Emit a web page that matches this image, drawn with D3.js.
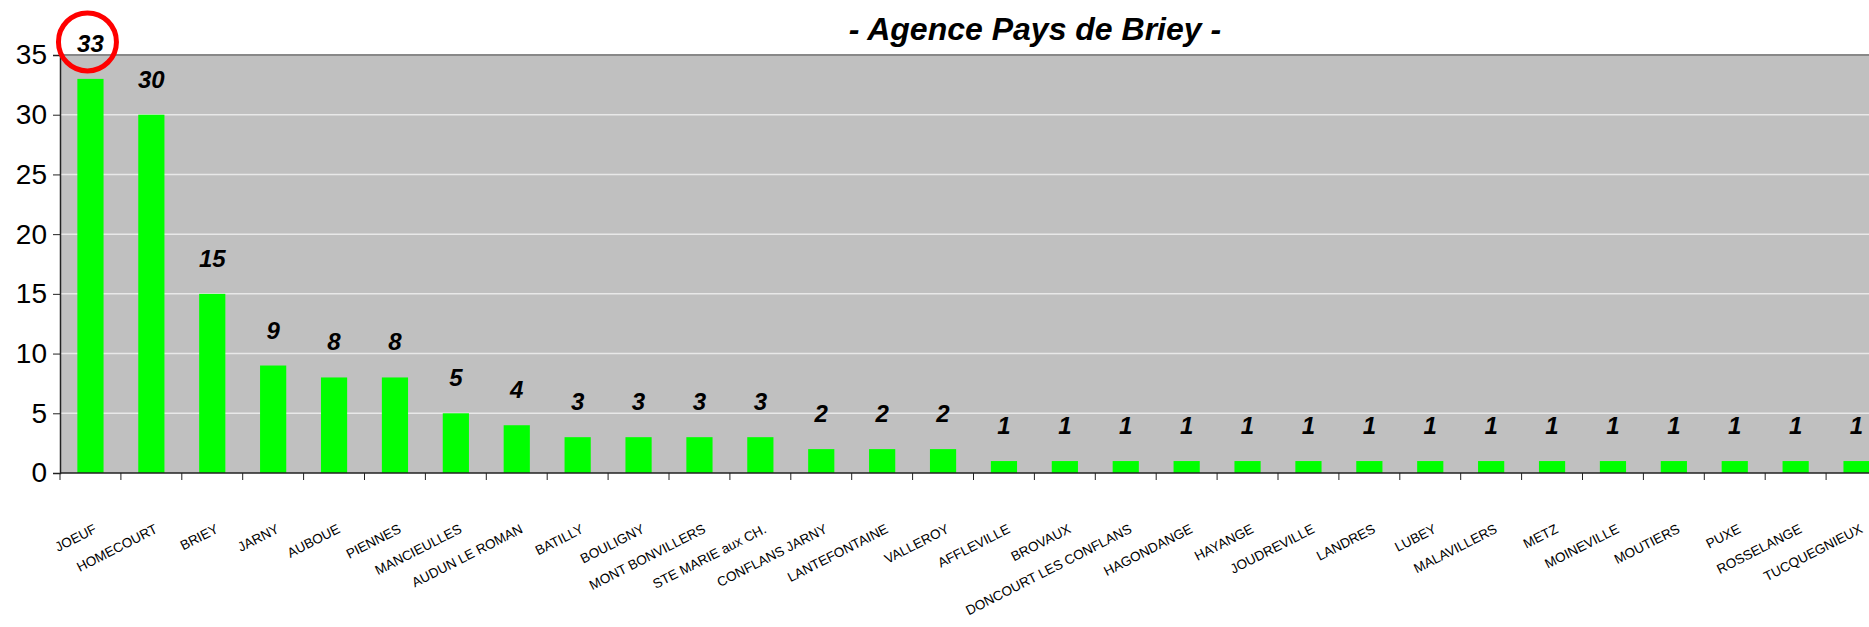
<!DOCTYPE html>
<html>
<head>
<meta charset="utf-8">
<script src="https://cdn.jsdelivr.net/npm/d3@7"></script>
<style>
  body { margin: 0; background: #fff; }
  svg { display: block; font-family: "Liberation Sans", Arial, sans-serif; }
</style>
</head>
<body>
<script>
// chart data
const communes = [
  "JOEUF", "HOMECOURT", "BRIEY", "JARNY", "AUBOUE", "PIENNES", "MANCIEULLES",
  "AUDUN LE ROMAN", "BATILLY", "BOULIGNY", "MONT BONVILLERS", "STE MARIE aux CH.",
  "CONFLANS JARNY", "LANTEFONTAINE", "VALLEROY", "AFFLEVILLE", "BROVAUX",
  "DONCOURT LES CONFLANS", "HAGONDANGE", "HAYANGE", "JOUDREVILLE", "LANDRES",
  "LUBEY", "MALAVILLERS", "METZ", "MOINEVILLE", "MOUTIERS", "PUXE",
  "ROSSELANGE", "TUCQUEGNIEUX"
];
const counts = [
  33, 30, 15, 9, 8, 8, 5, 4, 3, 3, 3, 3, 2, 2, 2,
  1, 1, 1, 1, 1, 1, 1, 1, 1, 1, 1, 1, 1, 1, 1
];
const yTicks = [0, 5, 10, 15, 20, 25, 30, 35];
const chartTitle = "- Agence Pays de Briey -";

const width = 1869, height = 627;
// plot runs past the right edge, as in the original capture
const margin = { top: 55, left: 60, bottom: 154, plotRight: 1887 };

const data = communes.map((c, i) => ({ name: c, value: counts[i] }));

const svg = d3.select("body").append("svg")
  .attr("width", width)
  .attr("height", height);

const x = d3.scaleBand()
  .domain(communes)
  .range([margin.left, margin.plotRight])
  .paddingInner(0.57)
  .paddingOuter(0.285);

const y = d3.scaleLinear()
  .domain([0, 35])
  .range([height - margin.bottom, margin.top]);

const step = x.step();
const pad = step * 0.285;

// plot background
svg.append("rect")
  .attr("x", margin.left)
  .attr("y", y(35))
  .attr("width", margin.plotRight - margin.left)
  .attr("height", y(0) - y(35))
  .attr("fill", "#c0c0c0");

// gridlines
svg.append("g")
  .selectAll("line")
  .data(yTicks.filter(t => t > 0 && t < 35))
  .join("line")
  .attr("x1", margin.left)
  .attr("x2", margin.plotRight)
  .attr("y1", d => y(d))
  .attr("y2", d => y(d))
  .attr("stroke", "#e8e8e8")
  .attr("stroke-width", 1.5);

// top border
svg.append("line")
  .attr("x1", margin.left).attr("x2", margin.plotRight)
  .attr("y1", y(35)).attr("y2", y(35))
  .attr("stroke", "#888").attr("stroke-width", 2);

// bars
svg.append("g")
  .selectAll("rect")
  .data(data)
  .join("rect")
  .attr("x", d => x(d.name))
  .attr("y", d => y(d.value))
  .attr("width", x.bandwidth())
  .attr("height", d => y(0) - y(d.value))
  .attr("fill", "#00ff00");

// value labels
svg.append("g")
  .selectAll("text")
  .data(data)
  .join("text")
  .attr("x", d => x(d.name) + x.bandwidth() / 2)
  .attr("y", d => y(d.value) - 27)
  .attr("text-anchor", "middle")
  .attr("font-size", 24)
  .attr("font-weight", "bold")
  .attr("font-style", "italic")
  .text(d => d.value);

// y axis
const yAxis = svg.append("g")
  .attr("transform", `translate(${margin.left},0)`)
  .call(d3.axisLeft(y).tickValues(yTicks).tickSize(7).tickPadding(6))
  .call(g => g.select(".domain").attr("stroke", "#222").attr("stroke-width", 1.5));
yAxis.selectAll("text")
  .attr("font-size", 28)
  .attr("font-family", "Liberation Sans, Arial, sans-serif")
  .attr("fill", "#000");
yAxis.selectAll(".tick line").attr("stroke", "#222");

// x axis: ticks on the category boundaries
const xAxis = svg.append("g")
  .attr("transform", `translate(0,${y(0)})`);
xAxis.append("line")
  .attr("x1", margin.left).attr("x2", margin.plotRight)
  .attr("stroke", "#222").attr("stroke-width", 1.5);
xAxis.selectAll(".xt")
  .data(communes)
  .join("line")
  .attr("class", "xt")
  .attr("x1", d => x(d) - pad)
  .attr("x2", d => x(d) - pad)
  .attr("y1", 0).attr("y2", 7)
  .attr("stroke", "#222");

xAxis.selectAll(".xl")
  .data(communes)
  .join("text")
  .attr("class", "xl")
  .attr("text-anchor", "end")
  .attr("font-size", 13.5)
  .attr("transform", d => `translate(${x(d) + x.bandwidth() / 2 + 7},${59}) rotate(-27)`)
  .text(d => d);

// title
svg.append("text")
  .attr("x", 1035)
  .attr("y", 40)
  .attr("text-anchor", "middle")
  .attr("font-size", 32)
  .attr("font-weight", "bold")
  .attr("font-style", "italic")
  .text(chartTitle);

// red circle highlighting the top commune
svg.append("circle")
  .attr("cx", x(communes[0]) + x.bandwidth() / 2 - 3)
  .attr("cy", y(counts[0]) - 37)
  .attr("r", 29)
  .attr("fill", "none")
  .attr("stroke", "#ff0000")
  .attr("stroke-width", 5);
</script>
</body>
</html>
